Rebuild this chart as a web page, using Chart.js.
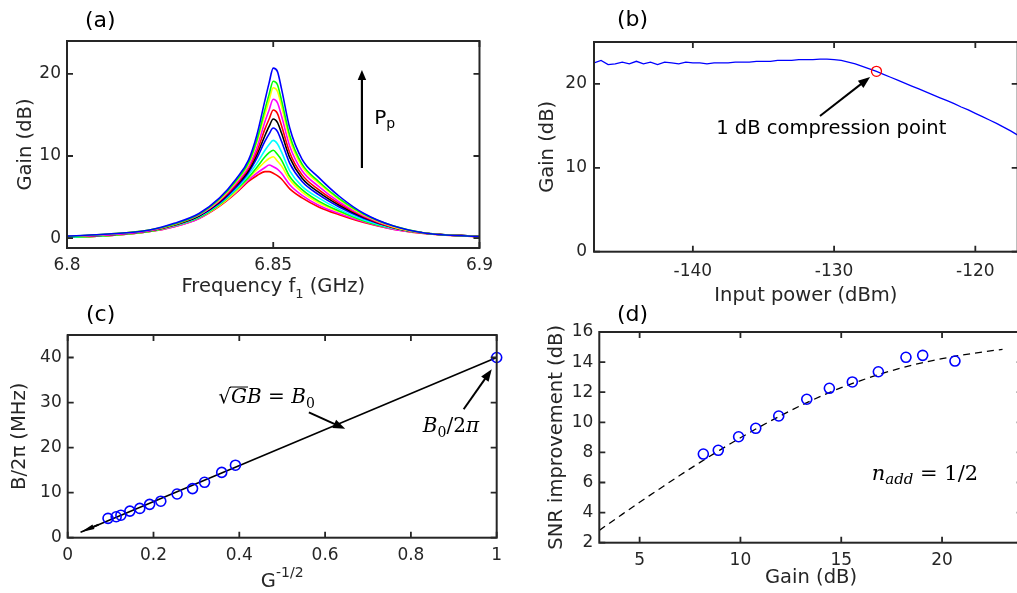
<!DOCTYPE html>
<html>
<head>
<meta charset="utf-8">
<script src="https://cdn.jsdelivr.net/npm/chart.js@4.4.1/dist/chart.umd.min.js"></script>
<style>
  html, body { margin: 0; padding: 0; background: #fff; }
  body { width: 1017px; height: 593px; overflow: hidden; position: relative; }
  canvas { position: absolute; }
  .tag { position: absolute; font: 22px "DejaVu Sans", sans-serif; color: #000; line-height: 24px; }
</style>
</head>
<body>
<canvas id="pa" width="500" height="300" style="left:0px;top:0px"></canvas>
<canvas id="pb" width="530" height="310" style="left:500px;top:0px"></canvas>
<canvas id="pc" width="510" height="298" style="left:0px;top:295px"></canvas>
<canvas id="pd" width="520" height="298" style="left:510px;top:295px"></canvas>
<div class="tag" style="left:85px;top:8px">(a)</div>
<div class="tag" style="left:617px;top:7px">(b)</div>
<div class="tag" style="left:86px;top:302px">(c)</div>
<div class="tag" style="left:617px;top:302px">(d)</div>
<script>
// (a) gain spectra for increasing pump power
const freqGHz = [6.800, 6.810, 6.820, 6.826, 6.832, 6.837, 6.841, 6.844, 6.846, 6.848, 6.849, 6.850, 6.851, 6.852, 6.854, 6.857, 6.861, 6.866, 6.872, 6.879, 6.887, 6.900];
const gain207 = [0.25, 0.5, 1.0, 1.8, 3.0, 4.9, 7.2, 9.5, 12.5, 16.8, 18.9, 20.7, 20.3, 18.2, 13.4, 9.6, 7.4, 5.1, 3.0, 1.5, 0.6, 0.2];
const gain191 = [0.2, 0.5, 1.0, 1.7, 2.9, 4.8, 7.0, 9.2, 11.9, 15.7, 17.5, 19.1, 18.7, 16.8, 12.5, 9.0, 6.9, 4.8, 2.9, 1.5, 0.6, 0.2];
const gain183 = [0.2, 0.5, 1.0, 1.7, 2.9, 4.7, 6.9, 9.0, 11.6, 15.1, 16.8, 18.3, 17.9, 16.1, 12.0, 8.7, 6.7, 4.7, 2.8, 1.4, 0.6, 0.2];
const gain169 = [0.2, 0.4, 0.9, 1.7, 2.8, 4.6, 6.7, 8.7, 11.0, 14.2, 15.6, 16.9, 16.5, 14.9, 11.2, 8.2, 6.3, 4.4, 2.7, 1.4, 0.6, 0.2];
const gain156 = [0.2, 0.4, 0.9, 1.6, 2.8, 4.5, 6.5, 8.5, 10.5, 13.3, 14.5, 15.6, 15.2, 13.7, 10.4, 7.7, 5.9, 4.2, 2.6, 1.3, 0.6, 0.2];
const gain145 = [0.2, 0.4, 0.9, 1.6, 2.7, 4.4, 6.4, 8.2, 10.1, 12.5, 13.6, 14.5, 14.1, 12.8, 9.8, 7.3, 5.6, 4.0, 2.5, 1.3, 0.6, 0.2];
const gain134 = [0.2, 0.4, 0.9, 1.6, 2.7, 4.3, 6.2, 8.0, 9.7, 11.8, 12.7, 13.4, 13.0, 11.8, 9.1, 6.9, 5.3, 3.8, 2.4, 1.3, 0.6, 0.2];
const gain119 = [0.1, 0.4, 0.9, 1.5, 2.6, 4.2, 6.0, 7.7, 9.1, 10.7, 11.4, 11.9, 11.5, 10.5, 8.2, 6.3, 4.9, 3.5, 2.2, 1.2, 0.6, 0.2];
const gain107 = [0.1, 0.3, 0.8, 1.5, 2.5, 4.1, 5.9, 7.4, 8.6, 9.9, 10.4, 10.7, 10.2, 9.5, 7.5, 5.9, 4.5, 3.3, 2.1, 1.2, 0.6, 0.2];
const gain99 = [0.1, 0.3, 0.8, 1.5, 2.5, 4.0, 5.7, 7.3, 8.3, 9.3, 9.7, 9.9, 9.4, 8.8, 7.1, 5.6, 4.3, 3.2, 2.1, 1.2, 0.6, 0.2];
const gain89 = [0.1, 0.3, 0.8, 1.4, 2.4, 4.0, 5.6, 7.1, 7.9, 8.6, 8.9, 8.7, 8.4, 7.9, 6.5, 5.2, 4.0, 3.0, 2.0, 1.1, 0.6, 0.2];
const gain81 = [0.1, 0.3, 0.8, 1.4, 2.4, 3.9, 5.5, 6.9, 7.6, 8.1, 8.1, 7.9, 7.6, 7.2, 6.0, 4.9, 3.8, 2.85, 1.9, 1.1, 0.55, 0.15];
const ticksAx = [6.8, 6.85, 6.9];
const ticksAy = [0, 10, 20];

// (b) gain vs input power
const inputPower = [-147, -146.5, -146, -145.5, -145, -144.5, -144, -143.5, -143, -142.5, -142, -141.5, -141, -140.5, -140, -139.5, -139, -138.5, -138, -137.5,
  -137, -136.5, -136, -135.5, -135, -134.5, -134, -133.5, -133, -132.5, -132, -131.5, -131, -130.5, -130, -129.5, -129, -128.5, -128, -127.5,
  -127, -126.5, -126, -125.5, -125, -124.5, -124, -123.5, -123, -122.5, -122, -121.5, -121, -120.5, -120, -119.5, -119, -118.5, -118, -117.5, -117];
const gainVsPower = [22.5, 22.8, 22.3, 22.4, 22.6, 22.4, 22.7, 22.4, 22.6, 22.3, 22.6, 22.5, 22.4, 22.6, 22.5, 22.5, 22.4, 22.5, 22.5, 22.5,
  22.6, 22.6, 22.6, 22.7, 22.7, 22.7, 22.8, 22.8, 22.8, 22.9, 22.9, 22.9, 22.95, 22.95, 22.9, 22.8, 22.6, 22.4, 22.1, 21.8,
  21.5, 21.15, 20.8, 20.45, 20.1, 19.75, 19.4, 19.05, 18.7, 18.35, 18.0, 17.65, 17.25, 16.9, 16.5, 16.1, 15.7, 15.3, 14.85, 14.4, 13.9];
const compressionPower = [-127];
const compressionGain = [21.5];
const ticksBx = [-140, -130, -120];
const ticksBy = [0, 10, 20];

// (c) bandwidth vs G^-1/2
const invSqrtGain = [0.094, 0.113, 0.124, 0.145, 0.168, 0.191, 0.217, 0.255, 0.291, 0.319, 0.359, 0.391, 1.0];
const bandwidthMHz = [4.3, 4.65, 5.0, 5.9, 6.5, 7.4, 8.1, 9.7, 10.9, 12.3, 14.5, 16.1, 40.0];
const fitX = [0.03, 1.0];
const fitY = [1.2, 40.0];
const ticksCx = [0, 0.2, 0.4, 0.6, 0.8, 1];
const ticksCy = [0, 10, 20, 30, 40];

// (d) SNR improvement vs gain
const measGain = [8.16, 8.90, 9.91, 10.76, 11.90, 13.29, 14.41, 15.55, 16.84, 18.21, 19.04, 20.64];
const measSnr = [7.89, 8.14, 9.04, 9.60, 10.42, 11.53, 12.26, 12.68, 13.36, 14.32, 14.45, 14.07];
const modelGain = [3, 4, 5, 6, 7, 8, 9, 10, 11, 12, 13, 14, 15, 16, 17, 18, 19, 20, 21, 22, 23];
const modelSnr = [2.82, 3.76, 4.69, 5.59, 6.48, 7.34, 8.17, 8.97, 9.73, 10.44, 11.12, 11.74, 12.30, 12.79, 13.23, 13.62, 13.95, 14.23, 14.47, 14.67, 14.85];
const ticksDx = [5, 10, 15, 20];
const ticksDy = [2, 4, 6, 8, 10, 12, 14, 16];

const INK = '#262626';
const SANS = '"DejaVu Sans", sans-serif';
const SERIF = '"DejaVu Serif", serif';

Chart.defaults.font.family = SANS;
Chart.defaults.color = INK;
Chart.defaults.animation = false;
Chart.defaults.responsive = false;
Chart.defaults.plugins.legend.display = false;
Chart.defaults.plugins.tooltip.enabled = false;

const pts = (xs, ys) => xs.map((x, i) => ({ x, y: ys[i] }));

function axis(min, max, tickVals, o) {
  const ticks = { autoSkip: false, maxRotation: 0, padding: o.pad, font: { size: 17 } };
  if (o.fmt) ticks.callback = o.fmt;
  return {
    type: 'linear', min, max,
    grid: { display: false, drawTicks: false },
    border: { display: false },
    ticks,
    title: o.title
      ? { display: true, text: o.title, color: INK, font: { size: 19.5 }, padding: o.titlePad }
      : { display: false },
    afterBuildTicks: s => { s.ticks = tickVals.map(v => ({ value: v })); },
    afterFit: s => {
      if (o.w) s.width = o.w;
      if (o.h) s.height = o.h;
    }
  };
}

// MATLAB style box with inward ticks on all four sides
const boxPlugin = {
  id: 'box',
  afterDraw(chart) {
    const { ctx, chartArea: a, scales: { x, y } } = chart;
    ctx.save();
    ctx.strokeStyle = INK;
    ctx.lineWidth = 1.8;
    ctx.beginPath();
    x.ticks.forEach(t => {
      const p = x.getPixelForValue(t.value);
      ctx.moveTo(p, a.bottom); ctx.lineTo(p, a.bottom - 6);
      ctx.moveTo(p, a.top); ctx.lineTo(p, a.top + 6);
    });
    y.ticks.forEach(t => {
      const p = y.getPixelForValue(t.value);
      ctx.moveTo(a.left, p); ctx.lineTo(a.left + 6, p);
      ctx.moveTo(a.right, p); ctx.lineTo(a.right - 6, p);
    });
    ctx.stroke();
    ctx.lineWidth = 2;
    ctx.strokeRect(a.left, a.top, a.right - a.left, a.bottom - a.top);
    ctx.restore();
  }
};

function arrow(ctx, x1, y1, x2, y2, len, wid) {
  const a = Math.atan2(y2 - y1, x2 - x1);
  const c = Math.cos(a), s = Math.sin(a);
  ctx.beginPath();
  ctx.moveTo(x1, y1);
  ctx.lineTo(x2 - c * len * 0.8, y2 - s * len * 0.8);
  ctx.stroke();
  ctx.beginPath();
  ctx.moveTo(x2, y2);
  ctx.lineTo(x2 - len * c + wid / 2 * s, y2 - len * s - wid / 2 * c);
  ctx.lineTo(x2 - len * c - wid / 2 * s, y2 - len * s + wid / 2 * c);
  ctx.closePath();
  ctx.fill();
}

// text made of runs so that sub/superscripts can be drawn
function runs(ctx, x, y, parts, align) {
  let w = 0;
  parts.forEach(r => { ctx.font = r.font; r.w = ctx.measureText(r.t).width; w += r.w; });
  let cx = align === 'center' ? x - w / 2 : x;
  ctx.textAlign = 'left';
  ctx.textBaseline = 'alphabetic';
  parts.forEach(r => {
    ctx.font = r.font;
    ctx.fillText(r.t, cx, y + (r.dy || 0));
    if (r.over) {
      ctx.beginPath();
      ctx.lineWidth = 1;
      ctx.moveTo(cx - 1, y - r.over);
      ctx.lineTo(cx + r.w + 1, y - r.over);
      ctx.stroke();
    }
    cx += r.w;
  });
}

function notes(draw) {
  return {
    id: 'notes',
    afterDraw(chart) {
      const { ctx, scales: { x, y } } = chart;
      const px = v => x.getPixelForValue(v);
      const py = v => y.getPixelForValue(v);
      ctx.save();
      ctx.fillStyle = '#000';
      ctx.strokeStyle = '#000';
      draw(ctx, px, py, chart);
      ctx.restore();
    }
  };
}

// ---------- (a) ----------
const curves = [
  [gain207, '#0000ff'], [gain191, '#00ff00'], [gain183, '#ffff00'], [gain169, '#ff00ff'],
  [gain156, '#ff0000'], [gain145, '#000000'], [gain134, '#0000ff'], [gain119, '#00ffff'],
  [gain107, '#00ff00'], [gain99, '#ffff00'], [gain89, '#ff00ff'], [gain81, '#ff0000']
];

new Chart(document.getElementById('pa'), {
  type: 'line',
  data: {
    datasets: curves.map(([g, c]) => ({
      data: pts(freqGHz, g),
      borderColor: c,
      borderWidth: 1.6,
      pointRadius: 0,
      cubicInterpolationMode: 'monotone'
    }))
  },
  options: {
    layout: { padding: { top: 41, right: 17, left: 0, bottom: 0 } },
    scales: {
      x: axis(6.8, 6.9, ticksAx, { pad: 7, h: 52, fmt: v => String(+v.toFixed(2)) }),
      y: axis(-1.2, 24, ticksAy, { pad: 6, w: 67, title: 'Gain (dB)', titlePad: { top: 14.3, bottom: 0 } })
    }
  },
  plugins: [boxPlugin, notes((ctx, px, py, chart) => {
    ctx.lineWidth = 2.2;
    arrow(ctx, px(6.8715), py(8.54), px(6.8715), py(20.47), 10, 8.5);
    runs(ctx, px(6.8745), py(13.9), [
      { t: 'P', font: '20px ' + SANS },
      { t: 'p', font: '14px ' + SANS, dy: 4 }
    ]);
    const a = chart.chartArea;
    ctx.fillStyle = INK;
    runs(ctx, (a.left + a.right) / 2, a.bottom + 44, [
      { t: 'Frequency f', font: '19.5px ' + SANS },
      { t: '1', font: '13px ' + SANS, dy: 6 },
      { t: ' (GHz)', font: '19.5px ' + SANS }
    ], 'center');
  })]
});

// ---------- (b) ----------
new Chart(document.getElementById('pb'), {
  type: 'line',
  data: {
    datasets: [
      {
        type: 'scatter',
        data: pts(compressionPower, compressionGain),
        pointRadius: 5,
        pointBorderWidth: 1.3,
        pointBorderColor: '#ff0000',
        pointBackgroundColor: 'rgba(0,0,0,0)'
      },
      {
        data: pts(inputPower, gainVsPower),
        borderColor: '#0000ff',
        borderWidth: 1.3,
        pointRadius: 0,
        tension: 0
      }
    ]
  },
  options: {
    layout: { padding: { top: 42, right: 12.3, left: 0, bottom: 0 } },
    scales: {
      x: axis(-147, -117, ticksBx, { pad: 9.8, h: 58.3, title: 'Input power (dBm)', titlePad: { top: 0, bottom: 2.3 } }),
      y: axis(0, 25, ticksBy, { pad: 7, w: 94, title: 'Gain (dB)', titlePad: { top: 36.3, bottom: 0 } })
    }
  },
  plugins: [boxPlugin, notes((ctx, px, py) => {
    ctx.lineWidth = 2;
    arrow(ctx, px(-131.0), py(16.18), px(-127.45), py(20.83), 12, 9);
    runs(ctx, px(-130.2), py(14.03), [{ t: '1 dB compression point', font: '19.5px ' + SANS }], 'center');
  })]
});

// ---------- (c) ----------
new Chart(document.getElementById('pc'), {
  type: 'line',
  data: {
    datasets: [
      {
        type: 'scatter',
        data: pts(invSqrtGain, bandwidthMHz),
        pointRadius: 5,
        pointBorderWidth: 1.6,
        pointBorderColor: '#0000ff',
        pointBackgroundColor: 'rgba(0,0,0,0)',
        clip: false
      },
      {
        data: pts(fitX, fitY),
        borderColor: '#000000',
        borderWidth: 1.6,
        pointRadius: 0
      }
    ]
  },
  options: {
    layout: { padding: { top: 40, right: 8.3, left: 0, bottom: 0 } },
    scales: {
      x: axis(0, 1, ticksCx, { pad: 7.9, h: 55.3, fmt: v => String(+v.toFixed(1)) }),
      y: axis(0, 45, ticksCy, { pad: 6, w: 67.7, title: 'B/2π (MHz)', titlePad: { top: 8.3, bottom: 0 } })
    }
  },
  plugins: [boxPlugin, notes((ctx, px, py, chart) => {
    ctx.lineWidth = 2;
    arrow(ctx, px(0.072), py(2.9), px(0.03), py(1.2), 14, 5);
    arrow(ctx, px(0.5622), py(27.84), px(0.6468), py(24.16), 12, 9);
    arrow(ctx, px(0.923), py(28.51), px(0.9885), py(37.39), 12, 9);
    runs(ctx, px(0.3511), py(29.9), [
      { t: '√', font: '20px ' + SERIF },
      { t: 'G', font: 'italic 20px ' + SERIF, over: 16 },
      { t: 'B', font: 'italic 20px ' + SERIF },
      { t: ' = ', font: '20px ' + SERIF },
      { t: 'B', font: 'italic 20px ' + SERIF },
      { t: '0', font: '14px ' + SERIF, dy: 5 }
    ]);
    runs(ctx, px(0.8279), py(23.53), [
      { t: 'B', font: 'italic 20px ' + SERIF },
      { t: '0', font: '14px ' + SERIF, dy: 5 },
      { t: '/2', font: '20px ' + SERIF },
      { t: 'π', font: 'italic 20px ' + SERIF }
    ]);
    const a = chart.chartArea;
    ctx.fillStyle = INK;
    runs(ctx, (a.left + a.right) / 2, a.bottom + 49, [
      { t: 'G', font: '19.5px ' + SANS },
      { t: '-1/2', font: '14px ' + SANS, dy: -10 }
    ], 'center');
  })]
});

// ---------- (d) ----------
new Chart(document.getElementById('pd'), {
  type: 'line',
  data: {
    datasets: [
      {
        type: 'scatter',
        data: pts(measGain, measSnr),
        pointRadius: 5,
        pointBorderWidth: 1.6,
        pointBorderColor: '#0000ff',
        pointBackgroundColor: 'rgba(0,0,0,0)'
      },
      {
        data: pts(modelGain, modelSnr),
        borderColor: '#000000',
        borderWidth: 1.3,
        borderDash: [7, 5],
        pointRadius: 0,
        cubicInterpolationMode: 'monotone'
      }
    ]
  },
  options: {
    layout: { padding: { top: 37, right: 7.3, left: 0, bottom: 0 } },
    scales: {
      x: axis(3, 24, ticksDx, { pad: 7.9, h: 50.3, title: 'Gain (dB)', titlePad: { top: 0, bottom: 3.3 } }),
      y: axis(2, 16, ticksDy, { pad: 6, w: 89.3, title: 'SNR improvement (dB)', titlePad: { top: 35.3, bottom: 0 } })
    }
  },
  plugins: [boxPlugin, notes((ctx, px, py) => {
    runs(ctx, px(16.51), py(6.17), [
      { t: 'n', font: 'italic 21px ' + SERIF },
      { t: 'add', font: 'italic 15px ' + SERIF, dy: 4 },
      { t: ' = 1/2', font: '21px ' + SERIF }
    ]);
  })]
});
</script>
</body>
</html>
